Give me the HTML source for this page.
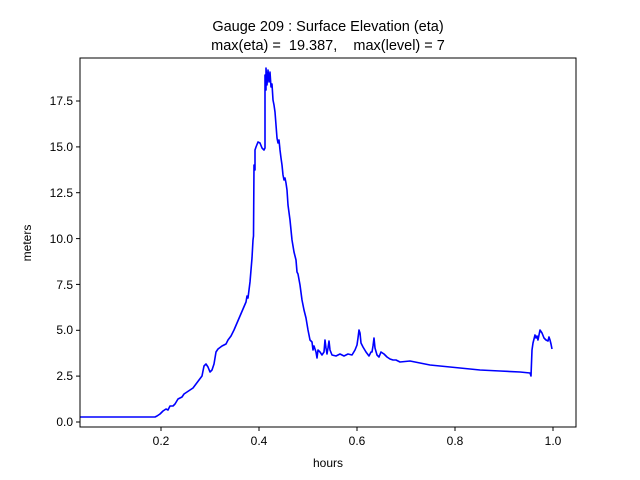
<!DOCTYPE html>
<html><head><meta charset="utf-8"><style>body{margin:0;background:#fff}svg{display:block}</style></head><body>
<svg width="640" height="480" xmlns="http://www.w3.org/2000/svg" font-family="Liberation Sans, DejaVu Sans, sans-serif">
<rect width="640" height="480" fill="#fff"/>
<text x="328" y="31" font-size="14.5" text-anchor="middle">Gauge 209 : Surface Elevation (eta)</text>
<text x="328" y="50" font-size="14.5" text-anchor="middle" xml:space="preserve">max(eta) =  19.387,    max(level) = 7</text>
<clipPath id="c"><rect x="80" y="58" width="496" height="369"/></clipPath>
<polyline clip-path="url(#c)" fill="none" stroke="#0000ff" stroke-width="1.6" stroke-linejoin="round" points="80,417 155,417 157,416 160,414 163,411 166,409 168,410 170,406 173,406 175,404 178,399 180,398 182,397 184,394 187,392 190,390 193,388 196,384 199,380 202,376 204,366 206,364 208,367 210,372 212,370 214,364 216,352 218,349 222,346 226,344 228,340 231,336 234,330 237,323 240,316 243,309 246,302 247,296 248,298 250,282 252,258 253,240 253.5,236 254,165 255,170 255,150 256,147 258,142 260,143 262,148 264,150 265,148 265,75 266,90 266,68 267,85 268,70 269,82 270,72 271,87 272,84 273,100 274,105 275,112 276,125 277,138 278,143 279,140 280,150 281,158 282,165 283,175 284,180 285,178 286,183 287,190 288,205 290,220 292,240 294,252 296,260 297,272 298,274 300,285 302,300 304,310 306,318 308,330 310,340 312,342 313,350 314,346 316,352 317,358 318,350 320,352 322,355 324,352 325,340 326,348 327,354 328,348 329,341 330,350 332,355 336,356 340,354 344,356 348,354 352,355 355,350 357,345 358,338 359,330 360,333 361,343 363,347 366,352 369,356 371,352 372,352 373,346 374,338 375,348 377,355 379,357 381,352 384,354 387,357 390,359 393,360 396,360 400,362 410,361 420,363 430,365 440,366 460,368 480,370 500,371 520,372 530,373 531,376 532,350 533,343 535,335 536,338 537,336 538,340 540,330 542,333 544,338 546,340 548,341 549,337 550,340 551,344 552,349"/>
<rect x="80" y="58" width="496" height="369" fill="none" stroke="#000" stroke-width="1"/>
<g stroke="#000" stroke-width="1">
<line x1="161" y1="427" x2="161" y2="431"/><line x1="259" y1="427" x2="259" y2="431"/><line x1="357" y1="427" x2="357" y2="431"/><line x1="455" y1="427" x2="455" y2="431"/><line x1="553" y1="427" x2="553" y2="431"/>
<line x1="76" y1="422" x2="80" y2="422"/><line x1="76" y1="376.1" x2="80" y2="376.1"/><line x1="76" y1="330.3" x2="80" y2="330.3"/><line x1="76" y1="284.4" x2="80" y2="284.4"/><line x1="76" y1="238.6" x2="80" y2="238.6"/><line x1="76" y1="192.7" x2="80" y2="192.7"/><line x1="76" y1="146.9" x2="80" y2="146.9"/><line x1="76" y1="101" x2="80" y2="101"/>
</g>
<g font-size="12" text-anchor="middle">
<text x="161" y="445">0.2</text><text x="259" y="445">0.4</text><text x="357" y="445">0.6</text><text x="455" y="445">0.8</text><text x="553" y="445">1.0</text>
<text x="328" y="467">hours</text>
</g>
<g font-size="12" text-anchor="end">
<text x="73" y="426">0.0</text><text x="73" y="380">2.5</text><text x="73" y="334">5.0</text><text x="73" y="289">7.5</text><text x="73" y="243">10.0</text><text x="73" y="197">12.5</text><text x="73" y="151">15.0</text><text x="73" y="105">17.5</text>
</g>
<text transform="translate(31,243) rotate(-90)" font-size="12" text-anchor="middle">meters</text>
</svg>
</body></html>
